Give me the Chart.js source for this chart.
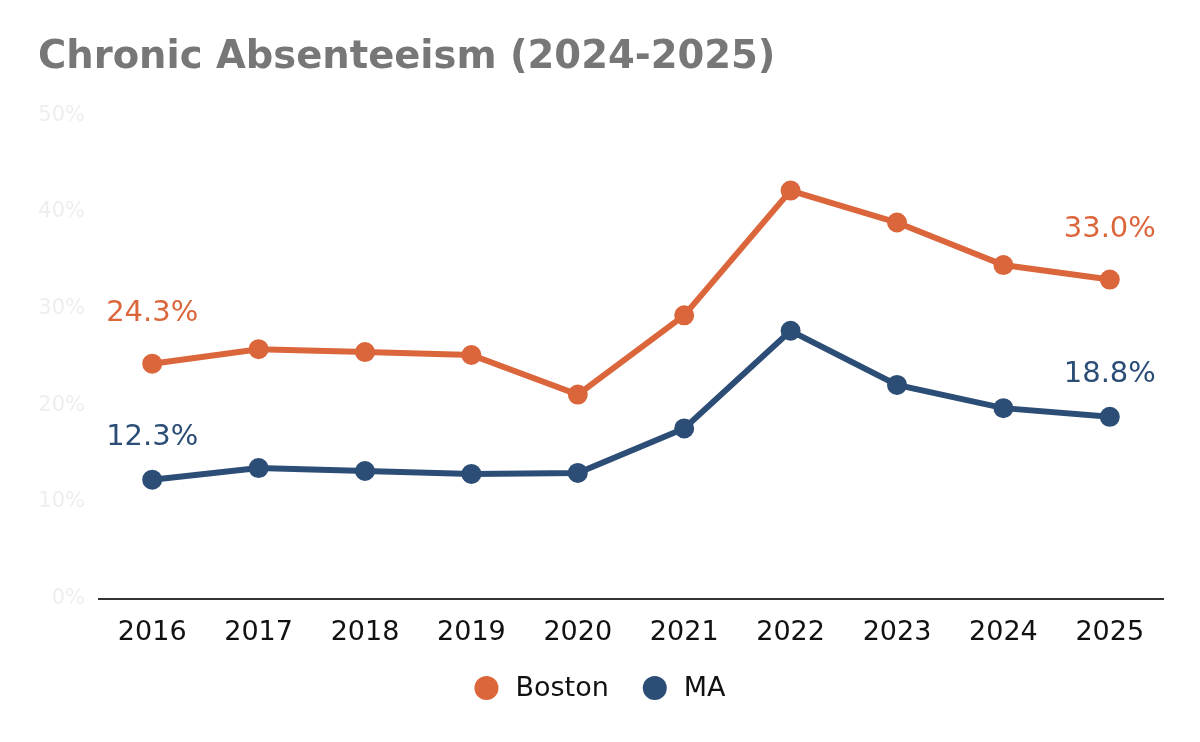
<!DOCTYPE html>
<html>
<head>
<meta charset="utf-8">
<style>
  html, body { margin: 0; padding: 0; background: #fff; }
  #wrap { width: 1200px; height: 742px; }
</style>
<script src="https://cdn.jsdelivr.net/npm/chart.js@4"></script>
</head>
<body>
<div id="wrap"><canvas id="grafic"></canvas></div>
<script>
var anys = ['2016', '2017', '2018', '2019', '2020', '2021', '2022', '2023', '2024', '2025'];
var boston = [24.3, 25.8, 25.5, 25.2, 21.1, 29.3, 42.2, 38.9, 34.5, 33.0];
var ma = [12.3, 13.5, 13.2, 12.9, 13.0, 17.6, 27.7, 22.1, 19.7, 18.8];
var ticksY = [0, 10, 20, 30, 40, 50];

var colorBoston = '#DB663B';
var colorMA = '#2B4D76';

// etiquetes només al primer i l'últim punt
var etiquetes = {
    id: 'etiquetes',
    afterDatasetsDraw: function(chart) {
        var ctx = chart.ctx;
        ctx.save();
        ctx.font = '29px "DejaVu Sans"';
        ctx.textAlign = 'center';
        ctx.textBaseline = 'middle';
        chart.data.datasets.forEach(function(ds, i) {
            var meta = chart.getDatasetMeta(i);
            var ultim = ds.data.length - 1;
            var dist = i === 0 ? 50 : 42;
            [0, ultim].forEach(function(j) {
                var p = meta.data[j];
                ctx.fillStyle = ds.borderColor;
                ctx.fillText(ds.data[j].toFixed(1) + '%', p.x, p.y - dist);
            });
        });
        ctx.restore();
    }
};

// llegenda dibuixada a mà, centrada a sota
var llegenda = {
    id: 'llegenda',
    afterDraw: function(chart) {
        var ctx = chart.ctx;
        var y = 688;
        var r = 12;
        ctx.save();
        ctx.font = '27px "DejaVu Sans"';
        ctx.textBaseline = 'middle';
        var items = chart.data.datasets.map(function(ds) {
            return { text: ds.label, color: ds.borderColor, w: ctx.measureText(ds.label).width };
        });
        var total = 0;
        items.forEach(function(it, k) {
            total += r + 29 + it.w;
            if (k < items.length - 1) total += 46 - r;
        });
        var x = chart.width / 2 - total / 2;
        items.forEach(function(it) {
            ctx.fillStyle = it.color;
            ctx.beginPath();
            ctx.arc(x + r, y, r, 0, Math.PI * 2);
            ctx.fill();
            ctx.fillStyle = '#111';
            ctx.fillText(it.text, x + r + 29, y + 1);
            x += r + 29 + it.w + 46 - r;
        });
        ctx.restore();
    }
};

var grafic = new Chart(document.getElementById('grafic').getContext('2d'), {
    type: 'line',
    data: {
        labels: anys,
        datasets: [{
            label: 'Boston',
            data: boston,
            borderColor: colorBoston,
            backgroundColor: colorBoston,
            borderWidth: 6,
            pointRadius: 7,
            pointHoverRadius: 7
        }, {
            label: 'MA',
            data: ma,
            borderColor: colorMA,
            backgroundColor: colorMA,
            borderWidth: 6,
            pointRadius: 7,
            pointHoverRadius: 7
        }]
    },
    options: {
        responsive: true,
        maintainAspectRatio: false,
        animation: false,
        layout: { padding: { left: 38, right: 37, top: 35, bottom: 75 } },
        plugins: {
            title: {
                display: true,
                text: 'Chronic Absenteeism (2024-2025)',
                align: 'start',
                color: '#777777',
                font: { family: '"DejaVu Sans"', size: 38.5, weight: 'bold' },
                padding: { top: 0, bottom: 34 }
            },
            legend: { display: false },
            tooltip: { enabled: false }
        },
        scales: {
            x: {
                offset: true,
                grid: { display: false, drawTicks: false },
                border: { display: true, color: '#333', width: 2 },
                ticks: {
                    color: '#111',
                    padding: 18,
                    font: { family: '"DejaVu Sans"', size: 27 }
                }
            },
            y: {
                min: 0,
                max: 50,
                afterBuildTicks: function(scale) {
                    scale.ticks = ticksY.map(function(v) { return { value: v }; });
                },
                afterFit: function(scale) { scale.width = 61; },
                grid: { display: false, drawTicks: false },
                border: { display: false },
                ticks: {
                    color: '#EEEEEE',
                    padding: 14,
                    font: { family: '"DejaVu Sans"', size: 21 },
                    callback: function(v) { return v + '%'; }
                }
            }
        }
    },
    plugins: [etiquetes, llegenda]
});
</script>
</body>
</html>
